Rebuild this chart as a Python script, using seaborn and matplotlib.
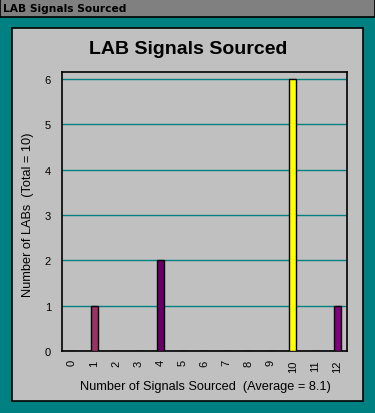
import matplotlib
matplotlib.use('Agg')
import matplotlib.pyplot as plt
from matplotlib.patches import Rectangle
import pandas as pd
import seaborn as sns

signals = list(range(13))
lab_counts = [0, 1, 0, 0, 2, 0, 0, 0, 0, 0, 6, 0, 1]
bar_colors = ['#993366', '#993366', '#993366', '#993366', '#660066', '#660066', '#660066',
              '#660066', '#660066', '#660066', '#FFFF00', '#800080', '#800080']

sns.set_style("white")
plt.rcParams['font.family'] = ['Liberation Sans', 'DejaVu Sans']
plt.rcParams['text.color'] = 'black'

df = pd.DataFrame({"signals": [str(s) for s in signals], "count": lab_counts})

fig = plt.figure(figsize=(3.75, 4.14), dpi=100)
fig.patch.set_facecolor('#008080')

# window title bar
fig.patches.append(Rectangle((0, 1 - 18 / 414), 1, 18 / 414, transform=fig.transFigure,
                             facecolor='#808080', edgecolor='black', linewidth=1.2, zorder=-2))
fig.text(3 / 375, 1 - 9 / 414, "LAB Signals Sourced", fontsize=7.7, fontweight='bold',
         family='DejaVu Sans', va='center', ha='left', color='black')

# light grey panel
fig.patches.append(Rectangle((12 / 375, 1 - 402 / 414), 351 / 375, 373 / 414, transform=fig.transFigure,
                             facecolor='#C0C0C0', edgecolor='black', linewidth=1.2, zorder=-2))

ax = fig.add_axes([62 / 375, 1 - 352 / 414, 285 / 375, 279 / 414])
ax.set_zorder(2)
ax.set_facecolor('#C0C0C0')

sns.barplot(data=df, x="signals", y="count", hue="signals", palette=bar_colors, legend=False,
            width=0.32, edgecolor='black', linewidth=1, saturation=1, ax=ax, zorder=3)

ax.set_xlim(-0.45, 12.45)
ax.set_ylim(0, 6.15)
ax.set_yticks(range(7))
ax.yaxis.grid(True, color='#008080', linewidth=1)
ax.set_axisbelow(True)
for sp in ax.spines.values():
    sp.set_color('black')
    sp.set_linewidth(1.2)
ax.tick_params(axis='both', length=0, labelsize=8, colors='black')
ax.tick_params(axis='y', pad=8)
ax.tick_params(axis='x', pad=6, labelrotation=90)
ax.set_xlabel("")
ax.set_ylabel("")

fig.text(188 / 375, 1 - 50 / 414, "LAB Signals Sourced", fontsize=14, fontweight='bold',
         ha='center', va='center', color='black')
fig.text(28 / 375, 1 - 215 / 414, "Number of LABs  (Total = 10)", fontsize=9.2,
         rotation=90, ha='center', va='center', color='black')
fig.text(205 / 375, 1 - 387 / 414, "Number of Signals Sourced  (Average = 8.1)", fontsize=9.2,
         ha='center', va='center', color='black')

fig.savefig("out.png", dpi=100, facecolor=fig.get_facecolor())
